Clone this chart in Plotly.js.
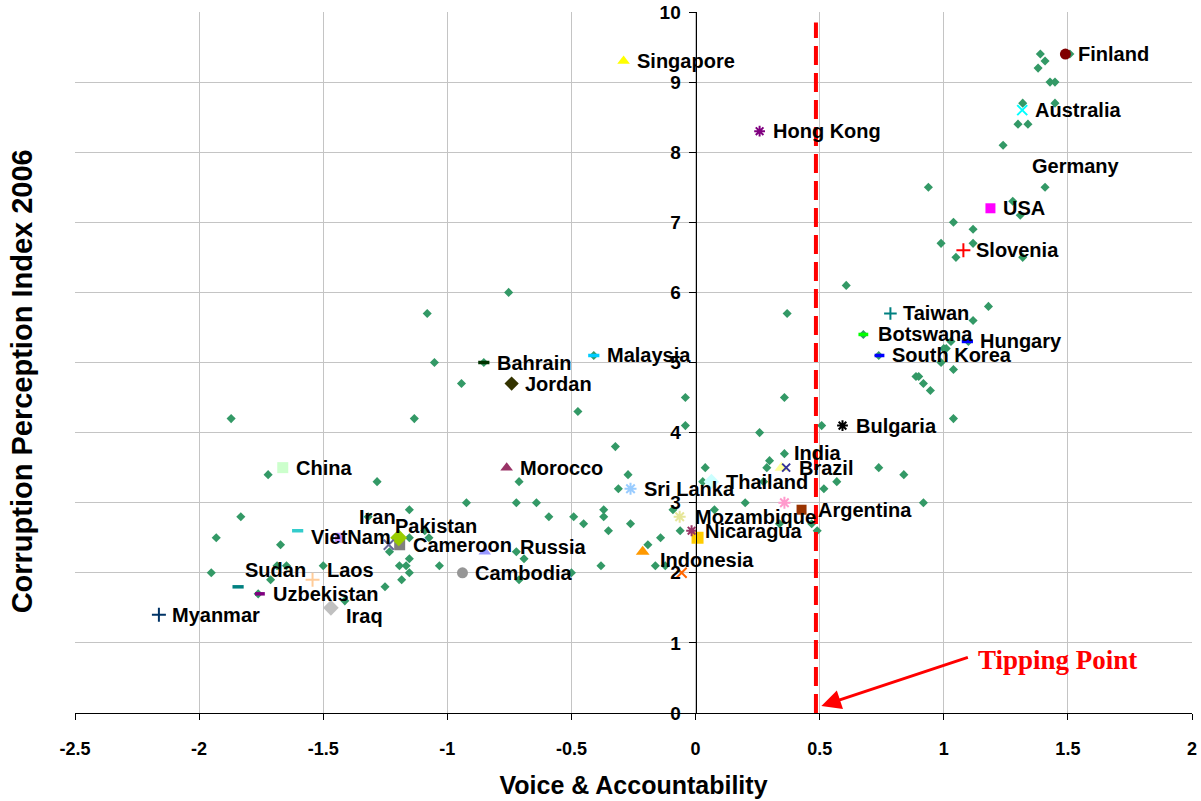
<!DOCTYPE html>
<html>
<head>
<meta charset="utf-8">
<script src="https://cdn.plot.ly/plotly-3.0.1.min.js"></script>
<style>html,body{margin:0;padding:0;background:#fff}#chart{width:1201px;height:801px}</style>
</head>
<body>
<div id="chart"></div>
<script>
// ---------- DATA ----------
// Highlighted (labelled) countries
const countries = ["Finland","Singapore","Hong Kong","Australia","Germany","USA","Slovenia","Taiwan","Botswana","Hungary","South Korea","Bulgaria","Malaysia","Bahrain","Jordan","China","Morocco","Sri Lanka","India","Brazil","Thailand","Mozambique","Nicaragua","Indonesia","Argentina","Russia","Cambodia","Cameroon","Pakistan","Iran","VietNam","Sudan","Laos","Uzbekistan","Myanmar","Iraq"];
const voice = [1.49,-0.29,0.258,1.316,1.31,1.188,1.079,0.785,0.676,1.095,0.741,0.592,-0.41,-0.853,-0.741,-1.663,-0.761,-0.262,0.346,0.365,0.064,-0.064,-0.016,-0.213,0.427,-0.849,-0.939,-1.192,-1.196,-1.236,-1.603,-1.843,-1.543,-1.755,-2.162,-1.469];
const cpi = [9.4,9.3,8.3,8.6,7.8,7.2,6.6,5.7,5.4,5.3,5.1,4.1,5.1,5.0,4.7,3.5,3.5,3.2,3.5,3.5,3.3,2.8,2.6,2.3,2.9,2.3,2.0,2.4,2.5,2.4,2.6,1.8,1.9,1.7,1.4,1.5];

// Highlighted markers without a data label
const unlabeledVoice = [0.358,0.008,-0.056,-1.433];
const unlabeledCpi = [3.0,2.5,2.0,2.5];

// All other countries (background series)
const otherVoice = [1.389,1.408,1.380,1.428,1.448,1.318,1.448,1.299,1.339,1.239,0.938,1.408,1.278,1.308,1.039,1.118,0.989,1.118,1.049,1.318,1.508,0.607,0.369,1.18,1.118,1.029,1.0,1.01,0.989,1.039,0.888,0.899,0.918,0.946,1.039,0.676,0.738,1.099,0.738,0.839,0.918,0.358,0.258,0.508,0.358,0.298,0.287,0.039,0.029,0.274,0.569,0.517,0.2,0.076,0.338,0.468,0.49,-0.943,-0.474,-0.041,-0.041,-0.323,-0.272,-0.311,-0.711,-0.923,-0.722,-0.641,-0.591,-0.491,-0.451,-0.370,-0.370,-0.351,-0.262,-0.091,-0.062,-0.141,-0.192,-0.162,-0.122,-0.381,-0.5,-0.722,-0.691,-0.711,-0.753,-1.081,-1.052,-1.871,-1.133,-1.722,-1.283,-1.832,-1.153,-1.931,-1.672,-1.153,-1.074,-1.091,-1.319,-1.233,-1.153,-1.193,-1.166,-1.153,-1.032,-1.184,-1.251,-1.413,-1.5,-1.951,-1.712,-1.686,-1.648,-1.762,-0.41,-0.853];
const otherCpi = [9.4,9.3,9.2,9.0,9.0,8.7,8.7,8.4,8.4,8.1,7.5,7.5,7.3,7.1,7.0,6.9,6.7,6.7,6.5,6.5,9.4,6.1,5.7,5.8,5.6,5.3,5.2,5.2,5.0,4.9,4.8,4.8,4.7,4.6,4.2,5.4,5.1,5.3,3.5,3.4,3.0,4.5,4.0,4.1,3.7,3.6,3.5,3.5,3.3,3.3,3.3,3.2,3.0,2.9,2.7,2.7,2.6,4.7,4.3,4.5,4.1,3.8,3.4,3.2,3.3,3.0,3.0,3.0,2.8,2.8,2.7,2.9,2.8,2.6,2.7,2.9,2.6,2.5,2.4,2.1,2.1,2.1,2.0,2.3,2.2,1.9,6.0,5.7,5.0,4.2,4.2,3.4,3.3,2.8,2.9,2.5,2.4,2.5,2.5,2.6,2.8,2.3,2.2,2.1,2.1,2.0,2.1,1.9,1.8,1.6,2.1,2.0,1.9,2.1,2.1,1.7,5.1,5.0];

const tippingPoint = 0.485;
const tippingLineTop = 9.85;
const xTicks = [-2.5,-2,-1.5,-1,-0.5,0,0.5,1,1.5,2];
const yTicks = [0,1,2,3,4,5,6,7,8,9,10];

// ---------- STYLES ----------
const FONT = "Liberation Sans, Arial, sans-serif";
const GREEN = "#339966";
const style = {
  "Finland":{s:"circle",c:"#800000",z:11},
  "Singapore":{s:"triangle-up",c:"#FFFF00",z:11},
  "Hong Kong":{s:"asterisk",c:"#800080",z:9},
  "Australia":{s:"x-thin",c:"#00FFFF",z:10},
  "Germany":{s:"circle",c:"rgba(0,0,0,0)",z:8},
  "USA":{s:"square",c:"#FF00FF",z:10},
  "Slovenia":{s:"cross-thin",c:"#FF0000",z:10},
  "Taiwan":{s:"cross-thin",c:"#008080",z:9},
  "Botswana":{s:"line-ew",c:"#00FF00",z:7},
  "Hungary":{s:"line-ew",c:"#0000FF",z:8},
  "South Korea":{s:"line-ew",c:"#0000FF",z:7},
  "Bulgaria":{s:"asterisk",c:"#000000",z:9},
  "Malaysia":{s:"line-ew",c:"#00CCFF",z:8},
  "Bahrain":{s:"line-ew",c:"#003300",z:8},
  "Jordan":{s:"diamond",c:"#333300",z:11},
  "China":{s:"square",c:"#CCFFCC",z:11},
  "Morocco":{s:"triangle-up",c:"#993366",z:11},
  "Sri Lanka":{s:"asterisk",c:"#99CCFF",z:10},
  "India":{s:"triangle-up",c:"#FFFF99",z:12},
  "Brazil":{s:"x-thin",c:"#333399",z:8},
  "Thailand":{s:"diamond",c:"#CCFFFF",z:12},
  "Mozambique":{s:"asterisk",c:"#E6E699",z:10},
  "Nicaragua":{s:"asterisk",c:"#993366",z:9},
  "Indonesia":{s:"triangle-up",c:"#FF9900",z:12},
  "Argentina":{s:"square",c:"#993300",z:10},
  "Russia":{s:"triangle-up",c:"#9999FF",z:11},
  "Cambodia":{s:"circle",c:"#969696",z:11},
  "Cameroon":{s:"square",c:"#808080",z:11},
  "Pakistan":{s:"diamond",c:"#99CC00",z:13},
  "Iran":{s:"x-thin",c:"#666699",z:10},
  "VietNam":{s:"line-ew",c:"#33CCCC",z:8},
  "Sudan":{s:"line-ew",c:"#008080",z:8},
  "Laos":{s:"cross-thin",c:"#FFCC99",z:10},
  "Uzbekistan":{s:"line-ew",c:"#800080",z:7},
  "Myanmar":{s:"cross-thin",c:"#003366",z:10},
  "Iraq":{s:"diamond",c:"#C0C0C0",z:12}
};
const unlabeledStyle = [
  {s:"asterisk",c:"#FF99CC",z:10},
  {s:"square",c:"#FFCC00",z:12},
  {s:"x-thin",c:"#FF6600",z:10},
  {s:"square",c:"#CC99FF",z:10}
];
// label nudges in px (dx to the right of the default gap, dy downward)
const nudge = {
  "India":[0,-15],"Indonesia":[4,8],"Russia":[22,-5],"Pakistan":[-17,-12],"Iran":[-43,-28],
  "VietNam":[0,6],"Sudan":[-6,-17],"Laos":[1,-10],"Iraq":[2,8],"Thailand":[2,0],"Mozambique":[2,0],
  "Argentina":[3,0],"Botswana":[2,0],"Germany":[-2,0]
};

function markerOf(st){
  const lineOnly = /asterisk|thin|line-ew/.test(st.s);
  return {symbol: st.s, size: st.z, color: st.c,
    line: {color: st.c, width: lineOnly ? (st.s === "line-ew" ? 3.5 : 2) : 0}};
}

const traces = [];
traces.push({type:"scatter",mode:"markers",x:otherVoice,y:otherCpi,name:"Countries",
  marker:{symbol:"diamond",size:7,color:GREEN,line:{width:0}},hoverinfo:"x+y"});
unlabeledVoice.forEach((v,i)=>{
  traces.push({type:"scatter",mode:"markers",x:[v],y:[unlabeledCpi[i]],marker:markerOf(unlabeledStyle[i]),hoverinfo:"x+y"});
});
countries.forEach((n,i)=>{
  traces.push({type:"scatter",mode:"markers",x:[voice[i]],y:[cpi[i]],name:n,marker:markerOf(style[n]),hoverinfo:"name+x+y"});
});
// Tipping point dashed line (on overlay axis that carries the visible y ticks)
traces.push({type:"scatter",mode:"lines",x:[tippingPoint,tippingPoint],y:[0,tippingLineTop],yaxis:"y2",
  line:{color:"#FF0000",width:4,dash:"19px,8px"},hoverinfo:"skip"});

const annotations = countries.map((n,i)=>{
  const d = nudge[n] || [0,0];
  return {x:voice[i],y:cpi[i],xref:"x",yref:"y",text:n,showarrow:false,
    xanchor:"left",yanchor:"middle",xshift:11+d[0],yshift:-d[1],
    font:{family:FONT,size:20,color:"#000000",weight:"bold"}};
});
// y-axis title (placed like the reference, left of the plot)
annotations.push({x:-0.0475,y:0.473,xref:"paper",yref:"paper",textangle:-90,showarrow:false,
  xanchor:"center",yanchor:"middle",text:"Corruption Perception Index 2006",
  font:{family:FONT,size:29,color:"#000000",weight:"bold"}});
// Tipping point label and arrow
annotations.push({x:1.457,y:0.76,xref:"x",yref:"y",text:"<b>Tipping Point</b>",showarrow:false,
  font:{family:"Liberation Serif, Times New Roman, serif",size:27,color:"#FF0000"}});
annotations.push({x:tippingPoint+0.022,y:0.1,xref:"x",yref:"y",ax:1.103,ay:0.80,axref:"x",ayref:"y",
  text:"",showarrow:true,arrowcolor:"#FF0000",arrowwidth:3,arrowhead:2,arrowsize:1.3});

const layout = {
  width:1201,height:801,
  margin:{l:75,r:9,t:12,b:88},
  paper_bgcolor:"#FFFFFF",plot_bgcolor:"#FFFFFF",
  showlegend:false,
  font:{family:FONT,color:"#000000"},
  xaxis:{range:[-2.5,2],tickvals:xTicks,ticktext:xTicks.map(String),
    showgrid:true,gridcolor:"#C4C4C4",gridwidth:1,zeroline:false,
    showline:true,linecolor:"#000000",linewidth:1,
    ticks:"outside",ticklen:6,tickcolor:"#000000",ticklabelstandoff:13,
    tickfont:{family:FONT,size:18,weight:"bold"},
    title:{text:"Voice & Accountability",font:{family:FONT,size:25,weight:"bold"},standoff:18}},
  yaxis:{range:[0,10],tickvals:yTicks,showgrid:true,gridcolor:"#C4C4C4",gridwidth:1,zeroline:false,
    showline:false,showticklabels:false,ticks:""},
  yaxis2:{range:[0,10],overlaying:"y",anchor:"free",position:(0-(-2.5))/4.5,side:"left",
    tickvals:yTicks,showgrid:false,zeroline:false,showline:true,linecolor:"#000000",linewidth:1,
    ticks:"outside",ticklen:7,tickcolor:"#000000",ticklabelstandoff:4,
    tickfont:{family:FONT,size:19,weight:"bold"}},
  annotations:annotations
};

Plotly.newPlot("chart",traces,layout,{displayModeBar:false,staticPlot:true});
</script>
</body>
</html>
